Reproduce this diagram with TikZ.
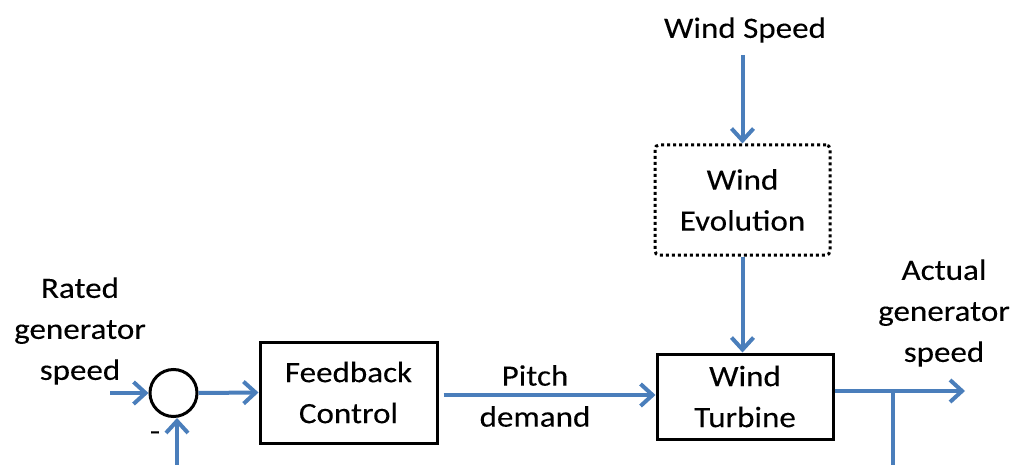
\documentclass[tikz,border=0pt]{standalone}
\usepackage{fontspec}
\setmainfont{Carlito}[FakeStretch=1.12,FakeBold=0.15]
\usetikzlibrary{arrows.meta,calc}
\definecolor{flowblue}{RGB}{74,126,187}
\begin{document}
\begin{tikzpicture}[x=1pt,y=-1pt,
  lbl/.style={font=\fontsize{29.5}{41}\selectfont, align=center, inner sep=0pt},
  blk/.style={lbl, draw, line width=3pt},
  dotblk/.style={blk, dash pattern=on 3pt off 3pt, rounded corners=4pt},
  flow/.style={draw=flowblue, line width=4pt, -{Straight Barb[length=12pt,width=22pt]}},
  wire/.style={draw=flowblue, line width=4pt}]
\useasboundingbox (0,0) rectangle (1022,465);

% blocks
\node[blk, minimum width=177pt, minimum height=101pt] (fb) at (348.5,392.5) {Feedback\\Control};
\node[blk, minimum width=176pt, minimum height=85pt] (wt) at (745,396.5) {Wind\\Turbine};
\node[dotblk, minimum width=175pt, minimum height=110pt] (we) at (742.5,200) {Wind\\Evolution};
\node[draw, circle, line width=3pt, minimum size=47pt, inner sep=0pt] (sum) at (173.5,393) {};

% labels
\node[lbl] (ws) at (745,30) {Wind Speed};
\node[lbl] (rated) at (80,331) {Rated\\generator\\speed};
\node[lbl] (actual) at (944,313) {Actual\\generator\\speed};
\node[lbl] (pitch) at (535,396) {Pitch\\demand};
\node[lbl] (minus) at (155,436) {-};

% loose ends of the signal lines
\coordinate (rin) at (110,393);
\coordinate (fbin) at (177,465);
\coordinate (aout) at (965,391);
\coordinate (tap) at (893,391);
\coordinate (tapdown) at (893,465);

% signal flow
\draw[flow] (rin) -- (sum.west);
\draw[flow] (sum.east) -- (fb.west);
\draw[flow] (fbin) -- (sum.south -| fbin);
\draw[flow] ($(fb.east)+(5,2.5)$) -- ($(wt.west)+(0,-1.5)$);
\draw[flow, shorten <=12pt] (ws.south -| we.north) -- (we.north);
\draw[flow] (we.south) -- (we.south |- wt.north);
\draw[flow] (wt.east |- aout) -- (aout);
\draw[wire] (tap) -- (tapdown);
\end{tikzpicture}
\end{document}
